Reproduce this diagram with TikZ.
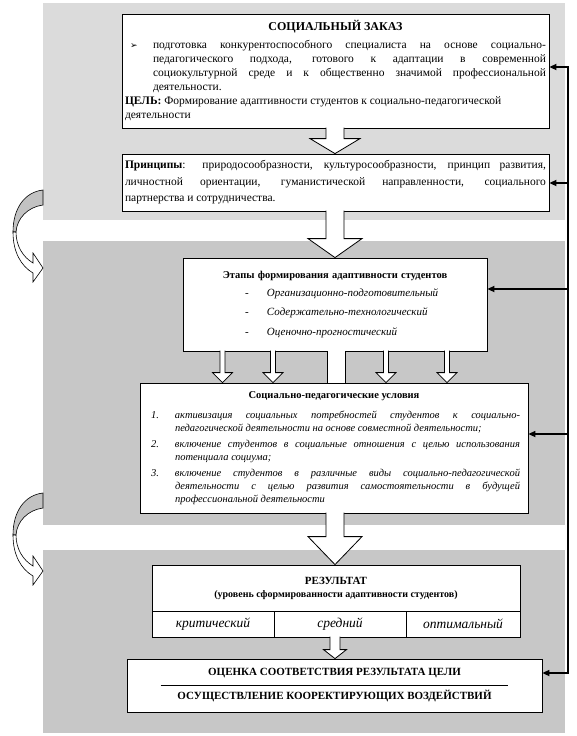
\documentclass[tikz,border=0pt]{standalone}
\usepackage{fontspec}
\setmainfont{Liberation Serif}
\newfontfamily\symfont{DejaVu Sans}
\usetikzlibrary{arrows.meta,calc}

\definecolor{zonelight}{gray}{0.86}
\definecolor{zonedark}{gray}{0.78}
\definecolor{backband}{gray}{0.76}

\tikzset{
  box/.style={draw, fill=white, line width=0.8pt, inner sep=3pt},
  fbline/.style={line width=1.6pt, line cap=rect},
  fbarrow/.style={line width=1.6pt, -{Triangle[length=7pt,width=6pt]}},
  curvarr/.pic={
    \filldraw[fill=backband, line width=0.6pt] (0,0) .. controls (-18,2) and (-30,18) .. (-30,42)
      -- (-27,42) .. controls (-26,28) and (-15,17) .. (0,15) -- cycle;
    \filldraw[fill=white, line width=0.6pt] (-30,42) .. controls (-30,62) and (-22,76) .. (-10,83)
      -- (-10,92) -- (0,78) -- (-10,63) -- (-10,73) .. controls (-20,67) and (-27,56) .. (-27,42) -- cycle;
  }
}

% hollow block arrow: x, from, to, head length, shaft half, head half
\newcommand\blockarr[6]{%
  \filldraw[fill=white, line width=0.8pt] let \p1=(#2), \p2=(#3) in
    ({#1*1pt-#5pt},\y1+0.8pt) -- ({#1*1pt-#5pt},\y2+#4pt) -- ({#1*1pt-#6pt},\y2+#4pt)
    -- ({#1*1pt},\y2) -- ({#1*1pt+#6pt},\y2+#4pt) -- ({#1*1pt+#5pt},\y2+#4pt)
    -- ({#1*1pt+#5pt},\y1+0.8pt);}

\newcommand\cond[2]{\hangindent=32pt\hangafter=1\noindent\hspace*{8pt}\makebox[24pt][l]{#1}#2\par}
\newcommand\stage[1]{\hspace*{59pt}\makebox[22pt][l]{-}#1\par}

\begin{document}
\begin{tikzpicture}[x=1pt, y=-1pt]
  \useasboundingbox (0,0) rectangle (577,736);

  % background zones
  \fill[zonelight] (43,3) rectangle (565,220);
  \fill[zonedark] (43,241) rectangle (565,525);
  \fill[zonedark] (43,550) rectangle (565,733);

  \pic at (43,190) {curvarr};
  \pic at (43,493) {curvarr};

  % boxes
  \node[box, minimum width=427pt, minimum height=114pt, text width=421pt, align=justify,
        font=\fontsize{11.5}{14}\selectfont] (zakaz) at (335.5,71) {%
    {\centering\fontsize{12}{14}\selectfont\bfseries СОЦИАЛЬНЫЙ ЗАКАЗ\par}
    \vspace{4pt}
    \hangindent=28pt\hangafter=0\noindent\llap{\makebox[28pt][l]{\hspace{5pt}{\symfont\small ➢}}}%
    подготовка конкурентоспособного специалиста на основе социально-\linebreak
    педагогического подхода, готового к адаптации в современной\linebreak
    социокультурной среде и к общественно значимой профессиональной\linebreak
    деятельности.\par
    {\raggedright\textbf{ЦЕЛЬ:} Формирование адаптивности студентов к социально-педагогической деятельности\par}};

  \node[box, minimum width=427pt, minimum height=57pt, text width=421pt, align=justify,
        font=\fontsize{11.5}{16.5}\selectfont] (princ) at (335.5,182.5) {%
    \textbf{Принципы}: природосообразности, культуросообразности, принцип развития,\linebreak
    личностной ориентации, гуманистической направленности, социального\linebreak
    партнерства и сотрудничества.};

  \node[box, minimum width=304pt, minimum height=93pt, text width=298pt, align=left] (etapy) at (335,304.5) {%
    {\centering\bfseries\fontsize{10.5}{12}\selectfont Этапы формирования адаптивности студентов\par}
    \vspace{-2pt}
    \fontsize{11}{19.5}\selectfont\itshape
    \stage{Организационно-подготовительный}
    \stage{Содержательно-технологический}
    \stage{Оценочно-прогностический}
    \vspace{6pt}};

  \node[box, minimum width=388pt, minimum height=130pt, text width=382pt, align=justify] (uslov) at (334,448) {%
    {\centering\bfseries\fontsize{10.5}{12}\selectfont Социально-педагогические условия\par}
    \vspace{7pt}
    \itshape\fontsize{10.5}{13}\selectfont\rightskip=5pt
    \cond{1.}{активизация социальных потребностей студентов к социально-\linebreak
      педагогической деятельности на основе совместной деятельности;}
    \vspace{3pt}
    \cond{2.}{включение студентов в социальные отношения с целью использования\linebreak
      потенциала социума;}
    \vspace{3pt}
    \cond{3.}{включение студентов в различные виды социально-педагогической\linebreak
      деятельности с целью развития самостоятельности в будущей\linebreak
      профессиональной деятельности}};

  \node[box, minimum width=368pt, minimum height=46pt, align=center, font=\bfseries] (rez) at (336,588) {%
    {\fontsize{11}{13}\selectfont РЕЗУЛЬТАТ}\\[1pt]
    {\fontsize{10}{12}\selectfont (уровень сформированности адаптивности студентов)}};
  \node[box, minimum width=122pt, minimum height=26pt, font=\fontsize{13.5}{15}\selectfont\itshape] (crit) at (213,624) {критический};
  \node[box, minimum width=132pt, minimum height=26pt, font=\fontsize{13.5}{15}\selectfont\itshape] (sred) at (340,624) {средний};
  \node[box, minimum width=114pt, minimum height=26pt, font=\fontsize{13.5}{15}\selectfont\itshape] (opt) at (463,624) {оптимальный};

  \node[box, minimum width=415pt, minimum height=53pt, align=center,
        font=\fontsize{11}{13}\selectfont\bfseries] (ocenka) at (334.5,685.5) {%
    ОЦЕНКА СООТВЕТСТВИЯ РЕЗУЛЬТАТА ЦЕЛИ\\[11pt]
    ОСУЩЕСТВЛЕНИЕ КООРЕКТИРУЮЩИХ ВОЗДЕЙСТВИЙ};
  \draw[line width=0.8pt] ($(ocenka.center)+(-174,0)$) -- ($(ocenka.center)+(173,0)$);

  % block arrows
  \blockarr{335}{zakaz.south}{princ.north}{15}{9}{25}
  \blockarr{335}{princ.south}{etapy.north}{19}{9}{27}
  \blockarr{335}{uslov.south}{rez.north}{28}{9}{27}
  \blockarr{335}{sred.south}{ocenka.north}{9}{5}{11.5}
  \foreach \ax in {222.5,273,386,447} {\blockarr{\ax}{etapy.south}{uslov.north}{10}{2.5}{10}}
  \fill[white] let \p1=(etapy.south), \p2=(uslov.north) in (327pt,\y1+0.8pt) rectangle (345pt,\y2);
  \draw[line width=0.8pt] let \p1=(etapy.south), \p2=(uslov.north) in
    (327pt,\y1) -- (327pt,\y2) (345pt,\y1) -- (345pt,\y2);

  % feedback
  \coordinate (fz) at (568,67);
  \coordinate (fp) at (568,183);
  \coordinate (fe) at (568,289);
  \coordinate (fu) at (568,434);
  \coordinate (fo) at (568,673);
  \draw[fbline] (fz) -- (fo);
  \draw[fbarrow] (fz) -- (fz -| zakaz.east);
  \draw[fbarrow] (fp) -- (fp -| princ.east);
  \draw[fbarrow] (fe) -- (fe -| etapy.east);
  \draw[fbarrow] (fu) -- (fu -| uslov.east);
  \draw[fbarrow] (fo) -- (fo -| ocenka.east);
\end{tikzpicture}
\end{document}
